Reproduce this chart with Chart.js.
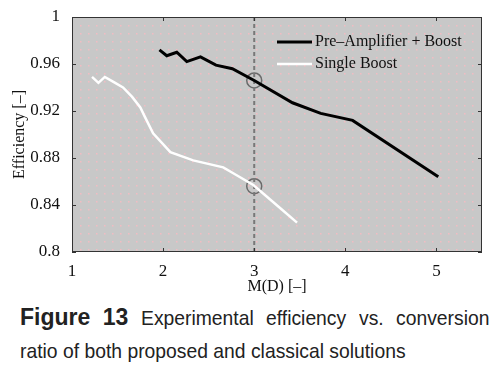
<!DOCTYPE html>
<html>
<head>
    <title>Figure 13</title>
    <style>
        body { margin: 0; background: #ffffff; width: 502px; height: 373px; overflow: hidden; }
        .grafico { position: absolute; left: 0; top: 0; width: 502px; height: 300px; }
        .legenda {
            position: absolute;
            left: 20px;
            font-family: "Liberation Sans", Arial, sans-serif;
            font-size: 21px;
            line-height: 26px;
            color: #222;
            white-space: nowrap;
        }
        .l1 { top: 304px; width: 470px; display: flex; justify-content: space-between; align-items: baseline; }
        .l2 { top: 338px; transform: scaleX(0.92); transform-origin: left; }
        .legenda b { font-size: 23px; }
        .cond { display: inline-block; transform: scaleX(0.92); transform-origin: left; }
    </style>
</head>
<body>
    <div class="grafico"><canvas id="chartEfic" width="502" height="300"></canvas></div>
    <div class="legenda l1"><b>Figure</b><b>13</b><span class="cond">Experimental</span><span class="cond">efficiency</span><span class="cond">vs.</span><span class="cond">conversion</span></div>
    <div class="legenda l2">ratio of both proposed and classical solutions</div>

    <script src="https://cdn.jsdelivr.net/npm/chart.js"></script>
    <script>
        // largura das palavras condensadas
        document.querySelectorAll('.cond').forEach(function (el) {
            const w = el.offsetWidth;
            el.style.width = (w * 0.92) + 'px';
        });

        // dados
        const preAmpX = [1.96, 2.04, 2.15, 2.26, 2.41, 2.58, 2.76, 3.0, 3.42, 3.73, 4.08, 5.02];
        const preAmpY = [0.972, 0.967, 0.970, 0.962, 0.966, 0.959, 0.956, 0.946, 0.927, 0.918, 0.912, 0.864];
        const singleX = [1.22, 1.29, 1.36, 1.45, 1.56, 1.66, 1.75, 1.80, 1.89, 2.08, 2.33, 2.66, 2.77, 2.99, 3.29, 3.47];
        const singleY = [0.949, 0.944, 0.949, 0.945, 0.940, 0.932, 0.923, 0.915, 0.901, 0.885, 0.878, 0.872, 0.867, 0.857, 0.837, 0.825];
        const marcaX = [3, 3];
        const marcaY = [0.946, 0.856];
        const linhaX = [3, 3];
        const linhaY = [0.8, 1];
        const xTicks = [1, 2, 3, 4, 5];
        const yTicks = [0.8, 0.84, 0.88, 0.92, 0.96, 1];

        function pares(xs, ys) {
            let out = [];
            for (let i = 0; i < xs.length; i++) out.push({ x: xs[i], y: ys[i] });
            return out;
        }

        // fundo cinza com pontinhos
        const fundo = {
            id: 'fundo',
            beforeDatasetsDraw(chart) {
                const a = chart.chartArea, ctx = chart.ctx;
                ctx.save();
                ctx.fillStyle = '#c8c8c8';
                ctx.fillRect(a.left, a.top, a.right - a.left, a.bottom - a.top);
                ctx.fillStyle = '#f2bcc2';
                for (let x = a.left + 8; x < a.right - 2; x += 8) {
                    for (let y = a.top + 8; y < a.bottom - 2; y += 8) {
                        ctx.fillRect(x, y, 1.5, 1.5);
                    }
                }
                ctx.restore();
            },
            afterDatasetsDraw(chart) {
                const a = chart.chartArea, ctx = chart.ctx;
                const sx = chart.scales.x, sy = chart.scales.y;
                ctx.save();
                ctx.strokeStyle = '#333';
                ctx.lineWidth = 1;
                ctx.strokeRect(a.left + 0.5, a.top + 0.5, a.right - a.left - 1, a.bottom - a.top - 1);
                ctx.beginPath();
                xTicks.forEach(v => {
                    const p = Math.round(sx.getPixelForValue(v)) + 0.5;
                    ctx.moveTo(p, a.bottom); ctx.lineTo(p, a.bottom - 4);
                    ctx.moveTo(p, a.top); ctx.lineTo(p, a.top + 4);
                });
                yTicks.forEach(v => {
                    const p = Math.round(sy.getPixelForValue(v)) + 0.5;
                    ctx.moveTo(a.left, p); ctx.lineTo(a.left + 4, p);
                    ctx.moveTo(a.right, p); ctx.lineTo(a.right - 4, p);
                });
                ctx.stroke();

                // legenda dentro do grafico
                const itens = [chart.data.datasets[0], chart.data.datasets[1]];
                ctx.font = '16px "Liberation Serif", "Times New Roman", serif';
                ctx.textBaseline = 'middle';
                itens.forEach((ds, i) => {
                    const y = 42 + i * 22;
                    ctx.strokeStyle = ds.borderColor;
                    ctx.lineWidth = ds.borderWidth;
                    ctx.beginPath();
                    ctx.moveTo(277, y); ctx.lineTo(312, y);
                    ctx.stroke();
                    ctx.fillStyle = '#111';
                    ctx.fillText(ds.label, 315, y);
                });
                ctx.restore();
            }
        };

        const ctxEfic = document.getElementById('chartEfic').getContext('2d');
        const serif = '"Liberation Serif", "Times New Roman", serif';

        const chartEfic = new Chart(ctxEfic, {
            type: 'scatter',
            data: {
                datasets: [
                    { label: 'Pre\u2013Amplifier + Boost', data: pares(preAmpX, preAmpY), showLine: true, borderColor: '#000', borderWidth: 3, pointRadius: 0, tension: 0 },
                    { label: 'Single Boost', data: pares(singleX, singleY), showLine: true, borderColor: '#ffffff', borderWidth: 2.5, pointRadius: 0, tension: 0 },
                    { label: 'linha', data: pares(linhaX, linhaY), showLine: true, borderColor: '#787878', borderWidth: 2, borderDash: [4, 3], pointRadius: 0 },
                    { label: 'marca', data: pares(marcaX, marcaY), showLine: false, borderColor: '#6a6a6a', backgroundColor: 'rgba(0,0,0,0)', borderWidth: 1.5, pointRadius: 7.5, pointHoverRadius: 7.5 }
                ]
            },
            options: {
                responsive: false,
                animation: false,
                layout: { padding: { top: 17, right: 20, left: 0, bottom: 0 } },
                plugins: { legend: { display: false }, tooltip: { enabled: false } },
                scales: {
                    x: {
                        type: 'linear', min: 1, max: 5.5,
                        afterBuildTicks(s) { s.ticks = xTicks.map(v => ({ value: v })); },
                        afterFit(s) { s.height = 48; },
                        grid: { display: false },
                        border: { display: false },
                        ticks: { color: '#111', font: { family: serif, size: 17 }, padding: 1 },
                        title: { display: true, text: 'M(D) [\u2013]', color: '#111', font: { family: serif, size: 16 }, padding: { top: 0 } }
                    },
                    y: {
                        type: 'linear', min: 0.8, max: 1,
                        afterBuildTicks(s) { s.ticks = yTicks.map(v => ({ value: v })); },
                        afterFit(s) { s.width = 72; },
                        grid: { display: false },
                        border: { display: false },
                        ticks: { color: '#111', font: { family: serif, size: 17 }, padding: 4, callback: v => (v === 1 ? '1' : v === 0.8 ? '0.8' : v.toFixed(2)) },
                        title: { display: true, text: 'Efficiency [\u2013]', color: '#111', font: { family: serif, size: 16 }, padding: { bottom: 0, top: 10 } }
                    }
                }
            },
            plugins: [fundo]
        });
    </script>
</body>
</html>
